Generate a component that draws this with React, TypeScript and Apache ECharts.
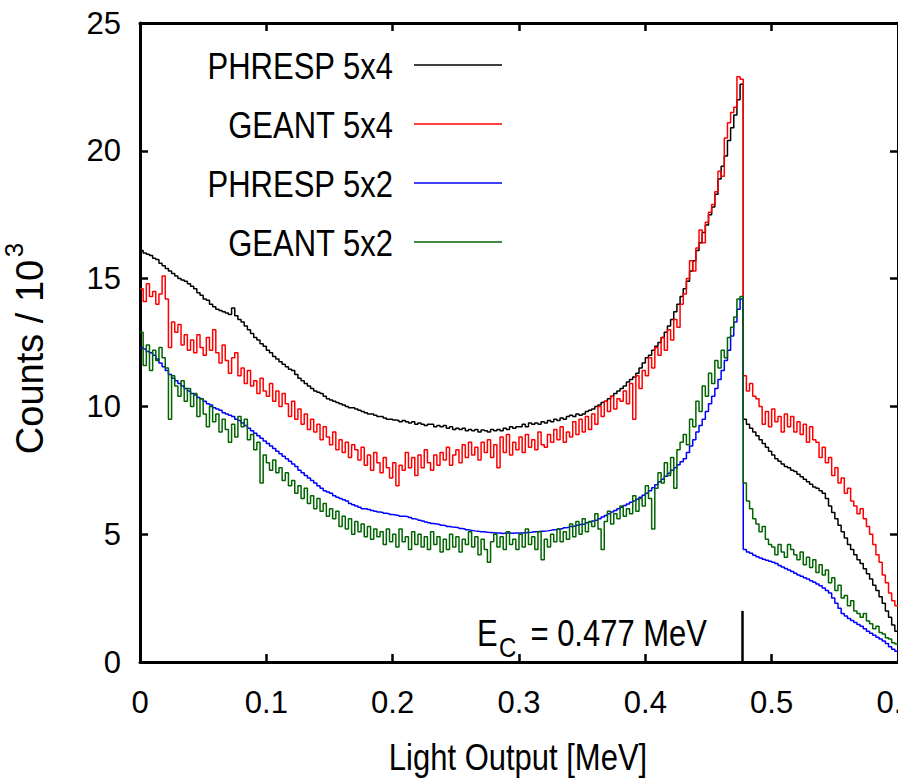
import React, { useEffect, useRef } from 'react';
import * as echarts from 'echarts';

// ---- axes ----
const X_MIN = 0;
const X_MAX = 0.6;
const X_STEP = 0.1;
const Y_MIN = 0;
const Y_MAX = 25;
const Y_STEP = 5;
const BIN_WIDTH = 0.0025; // histogram bin width (MeV)

const X_TITLE = 'Light Output [MeV]';
const Y_TITLE = 'Counts / 10';
const Y_TITLE_SUP = '3';

// ---- series ----
const SERIES_NAMES = ['PHRESP 5x4', 'GEANT 5x4', 'PHRESP 5x2', 'GEANT 5x2'];
const SERIES_COLORS = ['#000000', '#ff0000', '#0000ff', '#006400'];

// Counts / 10^3 per bin, bins start at 0, 0.0025, ... 0.5975 MeV
const phresp5x4 = [
  16.1, 16.0, 15.95, 15.9, 15.8, 15.75, 15.6, 15.5, 15.4, 15.3, 15.2, 15.1, 15.0, 14.95, 14.9, 14.8,
  14.7, 14.6, 14.45, 14.35, 14.2, 14.15, 14.0, 13.9, 13.8, 13.75, 13.7, 13.65, 13.6, 13.85, 13.55, 13.4,
  13.3, 13.15, 13.0, 12.85, 12.7, 12.6, 12.45, 12.35, 12.2, 12.1, 11.95, 11.85, 11.75, 11.65, 11.55, 11.45,
  11.4, 11.25, 11.1, 11.0, 10.9, 10.8, 10.7, 10.6, 10.55, 10.5, 10.4, 10.3, 10.25, 10.2, 10.15, 10.1,
  10.05, 10.0, 9.95, 9.95, 9.9, 9.85, 9.8, 9.75, 9.7, 9.7, 9.65, 9.6, 9.6, 9.55, 9.5, 9.5,
  9.47, 9.45, 9.4, 9.45, 9.4, 9.35, 9.4, 9.3, 9.35, 9.3, 9.25, 9.3, 9.3, 9.2, 9.25, 9.2,
  9.25, 9.15, 9.2, 9.1, 9.15, 9.1, 9.15, 9.05, 9.1, 9.05, 9.1, 9.0, 9.08, 9.05, 9.0, 9.1,
  9.05, 9.1, 9.05, 9.15, 9.1, 9.2, 9.15, 9.2, 9.2, 9.3, 9.2, 9.35, 9.3, 9.35, 9.3, 9.4,
  9.35, 9.45, 9.4, 9.5, 9.45, 9.55, 9.5, 9.6, 9.65, 9.6, 9.7, 9.65, 9.7, 9.8, 9.85, 9.9,
  10.0, 10.05, 10.15, 10.2, 10.3, 10.4, 10.5, 10.6, 10.7, 10.8, 10.95, 11.05, 11.15, 11.3, 11.5, 11.7,
  11.9, 12.0, 12.2, 12.35, 12.5, 12.7, 12.9, 13.15, 13.4, 13.7, 14.0, 14.3, 14.6, 14.9, 15.3, 15.7,
  16.1, 16.4, 16.8, 17.1, 17.5, 17.8, 18.3, 18.9, 19.4, 19.8, 20.4, 20.9, 21.4, 22.0, 22.6, 9.5,
  9.3, 9.15, 9.0, 8.85, 8.7, 8.55, 8.4, 8.25, 8.1, 7.95, 7.85, 7.75, 7.65, 7.6, 7.5, 7.45,
  7.35, 7.25, 7.15, 7.05, 6.95, 6.85, 6.8, 6.7, 6.6, 6.4, 6.1, 5.85, 5.6, 5.35, 5.1, 4.85,
  4.6, 4.4, 4.2, 4.0, 3.85, 3.65, 3.45, 3.25, 3.0, 2.8, 2.55, 2.3, 2.0, 1.75, 1.45, 1.2,
];

const geant5x4 = [
  14.6, 14.1, 14.8, 14.3, 14.5, 14.0, 14.4, 15.1, 14.2, 12.3, 13.3, 12.9, 13.2, 12.4, 12.8, 12.2,
  12.6, 12.1, 12.8, 12.3, 12.0, 12.7, 12.2, 13.0, 12.1, 11.7, 12.4, 11.8, 11.3, 11.9, 12.1, 11.2,
  11.5, 10.9, 11.4, 10.8, 11.0, 10.5, 11.1, 10.6, 10.4, 10.9, 10.2, 10.6, 10.0, 10.5, 10.1, 9.6,
  10.2, 9.5, 9.9, 9.3, 9.7, 9.1, 9.5, 9.0, 9.3, 8.7, 9.2, 8.8, 8.5, 9.0, 8.3, 8.7,
  8.2, 8.6, 8.0, 8.5, 8.3, 7.9, 8.4, 7.7, 8.1, 7.5, 8.2, 7.8, 7.4, 8.0, 7.6, 7.2,
  7.8, 6.9, 7.7, 7.5, 8.2, 7.6, 8.0, 7.3, 8.1, 7.6, 8.3, 7.8, 7.5, 8.1, 7.7, 8.2,
  7.9, 8.4, 7.7, 8.1, 8.3, 7.8, 8.5, 8.0, 8.6, 8.1, 8.4, 7.9, 8.6, 8.2, 8.7, 8.0,
  8.5, 7.6, 8.8, 8.2, 8.9, 8.1, 8.6, 8.3, 8.8, 8.2, 8.9, 8.4, 8.7, 8.3, 9.0, 8.5,
  8.4, 8.9, 8.6, 9.1, 8.7, 9.2, 8.6, 9.0, 8.8, 9.4, 8.9, 9.5, 9.0, 9.6, 9.1, 9.7,
  9.3, 10.0, 9.6, 10.2, 9.8, 10.4, 9.9, 10.3, 10.2, 10.6, 10.1, 10.9, 9.5, 11.2, 10.7, 11.4,
  11.2, 11.9, 11.5, 12.3, 12.0, 12.7, 12.2, 13.0, 12.6, 13.4, 13.1, 14.0, 14.4, 15.0, 15.7, 15.3,
  16.2, 16.9, 16.4, 17.2, 17.6, 17.9, 18.4, 19.2, 19.0, 20.5, 21.1, 21.5, 21.7, 22.9, 22.8, 11.2,
  10.6, 10.9, 10.4, 10.3, 10.0, 9.3, 9.8, 9.2, 9.9, 9.4, 9.6, 9.0, 9.7, 9.2, 9.6, 9.0,
  9.4, 8.9, 9.3, 8.6, 9.2, 8.7, 8.6, 8.0, 8.4, 7.8, 8.0, 7.3, 7.6, 7.0, 7.2, 6.6,
  6.8, 6.3, 6.1, 5.8, 6.0, 5.6, 5.3, 5.0, 4.6, 4.2, 3.9, 3.4, 3.1, 2.7, 2.4, 2.2,
];

const phresp5x2 = [
  12.3, 12.25, 12.15, 12.1, 12.0, 11.85, 11.7, 11.55, 11.4, 11.25, 11.1, 11.0, 10.9, 10.8, 10.7, 10.6,
  10.5, 10.45, 10.35, 10.3, 10.2, 10.1, 10.05, 9.95, 9.9, 9.85, 9.75, 9.7, 9.65, 9.6, 9.5, 9.45,
  9.35, 9.25, 9.15, 9.05, 8.95, 8.85, 8.75, 8.65, 8.55, 8.45, 8.35, 8.25, 8.15, 8.05, 7.95, 7.85,
  7.75, 7.65, 7.5, 7.4, 7.3, 7.2, 7.1, 7.0, 6.9, 6.8, 6.7, 6.65, 6.6, 6.5, 6.45, 6.4,
  6.35, 6.3, 6.2, 6.15, 6.1, 6.05, 6.0, 6.0, 5.97, 5.93, 5.9, 5.87, 5.85, 5.82, 5.8, 5.77,
  5.75, 5.73, 5.7, 5.7, 5.68, 5.65, 5.6, 5.58, 5.55, 5.52, 5.48, 5.45, 5.42, 5.4, 5.38, 5.35,
  5.33, 5.3, 5.28, 5.27, 5.25, 5.22, 5.2, 5.17, 5.15, 5.13, 5.12, 5.1, 5.1, 5.08, 5.07, 5.06,
  5.05, 5.05, 5.03, 5.05, 5.05, 5.04, 5.05, 5.05, 5.05, 5.06, 5.07, 5.08, 5.1, 5.1, 5.12, 5.12,
  5.13, 5.15, 5.17, 5.18, 5.2, 5.22, 5.25, 5.27, 5.3, 5.32, 5.35, 5.38, 5.4, 5.45, 5.48, 5.52,
  5.55, 5.6, 5.67, 5.73, 5.8, 5.87, 5.93, 6.0, 6.05, 6.12, 6.18, 6.25, 6.3, 6.37, 6.45, 6.52,
  6.6, 6.7, 6.82, 6.93, 7.05, 7.15, 7.27, 7.38, 7.5, 7.6, 7.72, 7.83, 7.95, 8.2, 8.45, 8.7,
  9.0, 9.25, 9.5, 9.8, 10.1, 10.4, 10.7, 11.05, 11.4, 11.8, 12.2, 12.75, 13.3, 13.8, 14.2, 4.4,
  4.3, 4.25, 4.18, 4.12, 4.07, 4.02, 3.98, 3.94, 3.9, 3.85, 3.78, 3.72, 3.66, 3.6, 3.54, 3.47,
  3.4, 3.35, 3.3, 3.25, 3.18, 3.12, 3.05, 2.98, 2.9, 2.8, 2.7, 2.5, 2.3, 2.1, 1.9, 1.8,
  1.7, 1.62, 1.55, 1.47, 1.4, 1.3, 1.2, 1.12, 1.05, 0.97, 0.9, 0.82, 0.72, 0.6, 0.5, 0.42,
];

const geant5x2 = [
  12.9, 11.6, 12.4, 11.4, 12.2, 11.8, 12.3, 11.9, 11.5, 9.5, 11.2, 10.8, 10.4, 11.0, 10.2, 10.7,
  10.0, 10.5, 9.6, 10.3, 9.7, 9.2, 10.0, 9.4, 9.7, 9.0, 9.5, 9.1, 8.6, 9.3, 8.8, 9.6,
  9.2, 9.5, 8.7, 8.9, 8.3, 8.6, 7.0, 8.1, 7.8, 7.5, 7.9, 7.4, 7.6, 7.1, 7.4, 6.9,
  7.1, 6.6, 6.9, 6.4, 6.8, 6.2, 6.5, 6.0, 6.4, 5.9, 6.2, 5.7, 6.0, 5.6, 5.9, 5.3,
  5.7, 5.2, 5.6, 5.0, 5.5, 5.1, 5.4, 4.9, 5.3, 4.8, 5.2, 4.9, 5.1, 4.6, 5.2, 4.7,
  5.0, 4.5, 5.2, 4.7, 4.9, 4.4, 5.1, 4.6, 5.0, 4.5, 4.9, 4.4, 5.1, 4.6, 4.9, 4.3,
  4.8, 4.4, 5.0, 4.5, 4.9, 4.3, 4.8, 4.6, 5.1, 4.5, 4.9, 4.2, 4.8, 4.4, 3.9, 4.7,
  5.0, 4.5, 4.9, 4.4, 5.1, 4.6, 4.8, 4.4, 5.0, 4.5, 5.2, 4.6, 4.9, 4.4, 5.1, 4.0,
  4.8, 4.5, 5.0, 4.7, 5.2, 4.7, 5.1, 4.8, 5.4, 4.9, 5.5, 5.0, 5.6, 5.1, 5.5, 5.3,
  5.8, 5.2, 4.4, 5.5, 5.9, 5.4, 5.8, 5.6, 6.1, 5.7, 6.0, 5.8, 6.5, 5.9, 6.4, 6.1,
  6.9, 6.4, 5.2, 6.8, 7.4, 7.0, 7.8, 7.3, 8.0, 6.8, 8.3, 8.6, 8.9, 8.5, 9.5, 9.2,
  10.2, 9.8, 10.8, 10.4, 11.3, 10.9, 11.8, 11.5, 12.2, 11.9, 12.7, 13.1, 13.5, 14.2, 14.3, 7.0,
  6.3, 6.0, 5.6, 5.4, 5.1, 5.3, 4.8, 4.6, 4.5, 4.2, 4.6, 4.3, 4.1, 4.6, 4.4, 4.2,
  4.0, 4.3, 3.8, 4.1, 3.7, 4.0, 3.5, 3.8, 3.4, 3.6, 3.1, 3.3, 2.8, 3.0, 2.5, 2.6,
  2.2, 2.4, 2.0, 1.9, 1.75, 1.9, 1.6, 1.5, 1.3, 1.4, 1.15, 1.1, 0.95, 0.9, 0.75, 0.7,
];

const SERIES_VALUES = [phresp5x4, geant5x4, phresp5x2, geant5x2];

// Compton edge marker
const EC_ENERGY = 0.477;
const EC_MARK_TOP = 2.0;
const EC_TEXT_MAIN = 'E';
const EC_TEXT_SUB = 'C';
const EC_TEXT_REST = '= 0.477 MeV';

// ---- style ----
const FONT = '"Liberation Sans", Arial, sans-serif';
const FS = 31;
const STRETCH = 1.18;

function toSteps(values: number[]): number[][] {
  const pts = values.map((v, i) => [i * BIN_WIDTH, v]);
  pts.push([values.length * BIN_WIDTH, values[values.length - 1]]);
  return pts;
}

function txt(x: number, y: number, text: string, opts: any = {}) {
  const align = opts.align || 'left';
  const valign = opts.valign || 'middle';
  return {
    type: 'text',
    x,
    y,
    rotation: opts.rotation || 0,
    scaleY: opts.scaleY || 1,
    silent: true,
    style: {
      text,
      fill: '#000',
      fontSize: opts.fontSize || FS,
      fontFamily: FONT,
      align,
      verticalAlign: valign,
      textAlign: align,
      textVerticalAlign: valign,
    },
  };
}

export default function App() {
  const ref = useRef<HTMLDivElement>(null);

  useEffect(() => {
    if (!ref.current) return;
    const chart = echarts.init(ref.current, null, { renderer: 'svg' });

    const axisLine = { show: true, onZero: false, lineStyle: { color: '#000', width: 3 } };
    const axisTick = { show: true, inside: true, length: 8, lineStyle: { color: '#000', width: 2.5 } };

    const legendGraphics: any[] = [];
    SERIES_NAMES.forEach((name, i) => {
      const y = 65 + 59 * i;
      legendGraphics.push(txt(393, y + 1, name, { align: 'right', scaleY: STRETCH }));
      legendGraphics.push({
        type: 'line',
        silent: true,
        shape: { x1: 414, y1: y, x2: 502, y2: y },
        style: { stroke: SERIES_COLORS[i], lineWidth: 1.5 },
      });
    });

    const series: any[] = SERIES_VALUES.map((vals, i) => ({
      name: SERIES_NAMES[i],
      type: 'line',
      step: 'end',
      data: toSteps(vals),
      symbol: 'none',
      showSymbol: false,
      lineStyle: { color: SERIES_COLORS[i], width: 1.5 },
      itemStyle: { color: SERIES_COLORS[i] },
      z: 2 + i,
    }));
    series[0].markLine = {
      silent: true,
      symbol: ['none', 'none'],
      label: { show: false },
      lineStyle: { color: '#000', width: 2.5, type: 'solid' },
      data: [[{ coord: [EC_ENERGY, 0] }, { coord: [EC_ENERGY, EC_MARK_TOP] }]],
    };

    chart.setOption({
      animation: false,
      backgroundColor: '#fff',
      grid: {
        left: 140,
        right: 0,
        top: 23,
        bottom: 117,
        containLabel: false,
        outerBoundsMode: 'none',
      },
      xAxis: [
        {
          type: 'value',
          min: X_MIN,
          max: X_MAX,
          interval: X_STEP,
          position: 'bottom',
          axisLine,
          axisTick,
          splitLine: { show: false },
          axisLabel: {
            margin: 25,
            color: '#000',
            fontSize: FS,
            fontFamily: FONT,
            formatter: (v: number) => (v === 0 ? '0' : v.toFixed(1)),
          },
        },
        {
          type: 'value',
          min: X_MIN,
          max: X_MAX,
          interval: X_STEP,
          position: 'top',
          axisLine,
          axisTick,
          splitLine: { show: false },
          axisLabel: { show: false },
        },
      ],
      yAxis: [
        {
          type: 'value',
          min: Y_MIN,
          max: Y_MAX,
          interval: Y_STEP,
          position: 'left',
          axisLine,
          axisTick,
          splitLine: { show: false },
          axisLabel: { margin: 19, color: '#000', fontSize: FS, fontFamily: FONT },
        },
        {
          type: 'value',
          min: Y_MIN,
          max: Y_MAX,
          interval: Y_STEP,
          position: 'right',
          axisLine,
          axisTick,
          splitLine: { show: false },
          axisLabel: { show: false },
        },
      ],
      series,
      graphic: [
        ...legendGraphics,
        txt(518, 757, X_TITLE, { align: 'center', scaleY: STRETCH }),
        txt(30, 357, Y_TITLE, { align: 'center', rotation: Math.PI / 2, fontSize: 38 }),
        txt(14, 250, Y_TITLE_SUP, { align: 'center', rotation: Math.PI / 2, fontSize: 26 }),
        txt(477, 633, EC_TEXT_MAIN, { align: 'left', scaleY: STRETCH }),
        txt(499, 647, EC_TEXT_SUB, { align: 'left', fontSize: 24, scaleY: STRETCH }),
        txt(707, 633, EC_TEXT_REST, { align: 'right', scaleY: STRETCH }),
      ],
    });

    return () => chart.dispose();
  }, []);

  return (
    <div
      ref={ref}
      style={{ position: 'absolute', left: 0, top: 0, width: 898, height: 779 }}
    />
  );
}
